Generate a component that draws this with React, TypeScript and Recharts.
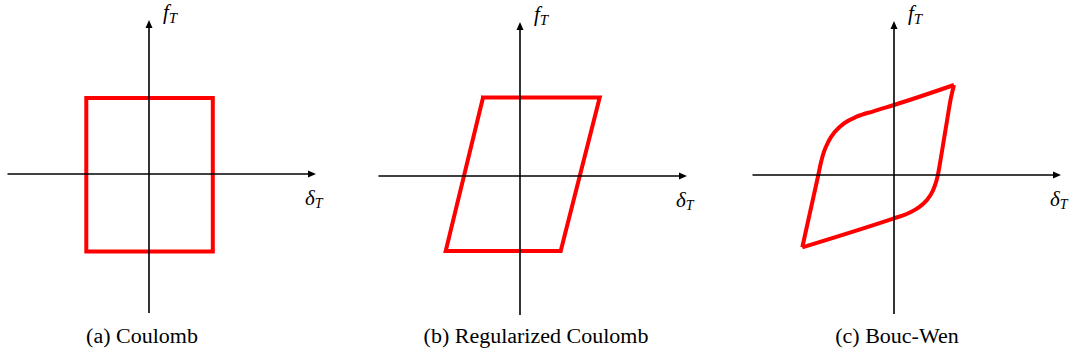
import React from 'react';
import { LineChart, Line, XAxis, YAxis, ReferenceLine } from 'recharts';

// ---------- data (units: normalised displacement δ_T / force f_T) ----------
const AXIS_DELTA = [-14.15, 16.7]; // extent of δ_T axis
const AXIS_FORCE = [-13.9, 15.4]; // extent of f_T axis

const coulombDelta = [-6.27, 6.38, 6.38, -6.27, -6.27];
const coulombForce = [7.6, 7.6, -7.74, -7.74, 7.6];

const regDelta = [-3.7, 7.97, 4.07, -7.43, -3.7];
const regForce = [7.84, 7.84, -7.5, -7.5, 7.84];

const boucUpperDelta = [-9.17, -7.57, -7.3, -7.0, -6.53, -5.9, -5.0, -3.73, -2.07, 0, 6.0];
const boucUpperForce = [-7.23, 0, 1.27, 2.33, 3.4, 4.33, 5.17, 5.83, 6.37, 7.0, 9.0];

const boucLowerDelta = [-9.17, 0, 1.27, 2.43, 3.27, 3.87, 4.2, 4.4, 4.67, 5.0, 5.33, 5.67, 6.0];
const boucLowerForce = [-7.23, -4.33, -3.9, -3.27, -2.53, -1.6, -0.73, 0.07, 1.6, 3.6, 5.6, 7.6, 9.0];

const captions = ['(a) Coulomb', '(b) Regularized Coulomb', '(c) Bouc-Wen'];
const forceLabel = 'f';
const deltaLabel = 'δ';
const subLabel = 'T';

// ---------- helpers ----------
const toRows = (d: number[], f: number[]) => d.map((v, i) => ({ d: v, f: f[i] }));

const FONT = '"Liberation Serif", "Times New Roman", Times, serif';
const RED = '#ff0000';

function AxisArrow(props: any) {
  const { x1, y1, x2, y2, text, ldx, ldy, sdy, fs, sfs } = props;
  if ([x1, y1, x2, y2].some((v) => typeof v !== 'number' || isNaN(v))) return null;
  const dx = x2 - x1;
  const dy = y2 - y1;
  const len = Math.hypot(dx, dy) || 1;
  const ux = dx / len;
  const uy = dy / len;
  const L = 8;
  const W = 3.5;
  const bx = x2 - ux * L;
  const by = y2 - uy * L;
  const px = -uy;
  const py = ux;
  return (
    <g>
      <line x1={x1} y1={y1} x2={bx + ux} y2={by + uy} stroke="#000" strokeWidth={1.6} />
      <polygon
        points={`${x2},${y2} ${bx + px * W},${by + py * W} ${bx - px * W},${by - py * W}`}
        fill="#000"
      />
      <text x={x2 + ldx} y={y2 + ldy} fontFamily={FONT} fontStyle="italic" fontSize={fs} fill="#000">
        {text}
        <tspan fontSize={sfs} dy={sdy}>
          {subLabel}
        </tspan>
      </text>
    </g>
  );
}

type Series = { rows: { d: number; f: number }[]; curve: 'linear' | 'monotoneX'; cap: 'square' | 'butt' };

function Panel({ left, top, series }: { left: number; top: number; series: Series[] }) {
  return (
    <div style={{ position: 'absolute', left, top }}>
      <LineChart width={350} height={360} margin={{ top: 0, right: 0, bottom: 0, left: 0 }}>
        <XAxis type="number" dataKey="d" domain={[-16, 19]} hide allowDataOverflow />
        <YAxis type="number" domain={[-18.5, 17.5]} hide allowDataOverflow />
        {series.map((s, i) => (
          <Line
            key={i}
            data={s.rows}
            dataKey="f"
            type={s.curve}
            stroke={RED}
            strokeWidth={4}
            strokeLinecap={s.cap}
            strokeLinejoin="miter"
            dot={false}
            activeDot={false}
            isAnimationActive={false}
          />
        ))}
        <ReferenceLine
          segment={[
            { x: AXIS_DELTA[0], y: 0 },
            { x: AXIS_DELTA[1], y: 0 },
          ]}
          shape={(p: any) => (
            <AxisArrow {...p} text={deltaLabel} ldx={-11} ldy={30.5} sdy={3.5} fs={21} sfs={14} />
          )}
        />
        <ReferenceLine
          segment={[
            { x: 0, y: AXIS_FORCE[0] },
            { x: 0, y: AXIS_FORCE[1] },
          ]}
          shape={(p: any) => (
            <AxisArrow {...p} text={forceLabel} ldx={14} ldy={-0.8} sdy={4} fs={21} sfs={15} />
          )}
        />
      </LineChart>
    </div>
  );
}

const captionCenters = [141.7, 536.3, 897];

export default function App() {
  const panels: { left: number; top: number; series: Series[] }[] = [
    { left: -11.3, top: -0.7, series: [{ rows: toRows(coulombDelta, coulombForce), curve: 'linear', cap: 'square' }] },
    { left: 360.3, top: 0.7, series: [{ rows: toRows(regDelta, regForce), curve: 'linear', cap: 'square' }] },
    {
      left: 734,
      top: 0,
      series: [
        { rows: toRows(boucUpperDelta, boucUpperForce), curve: 'monotoneX', cap: 'butt' },
        { rows: toRows(boucLowerDelta, boucLowerForce), curve: 'monotoneX', cap: 'butt' },
      ],
    },
  ];
  return (
    <div
      style={{
        position: 'absolute',
        left: 0,
        top: 0,
        width: 1070,
        height: 360,
        overflow: 'hidden',
        background: '#fff',
      }}
    >
      {panels.map((p, i) => (
        <Panel key={i} left={p.left} top={p.top} series={p.series} />
      ))}
      {captions.map((c, i) => (
        <div
          key={c}
          style={{
            position: 'absolute',
            left: captionCenters[i] - 150,
            top: 326,
            width: 300,
            textAlign: 'center',
            fontFamily: FONT,
            fontSize: 20,
            lineHeight: '20px',
            color: '#000',
            transform: 'scaleX(1.1)',
            whiteSpace: 'nowrap',
          }}
        >
          {c}
        </div>
      ))}
    </div>
  );
}
